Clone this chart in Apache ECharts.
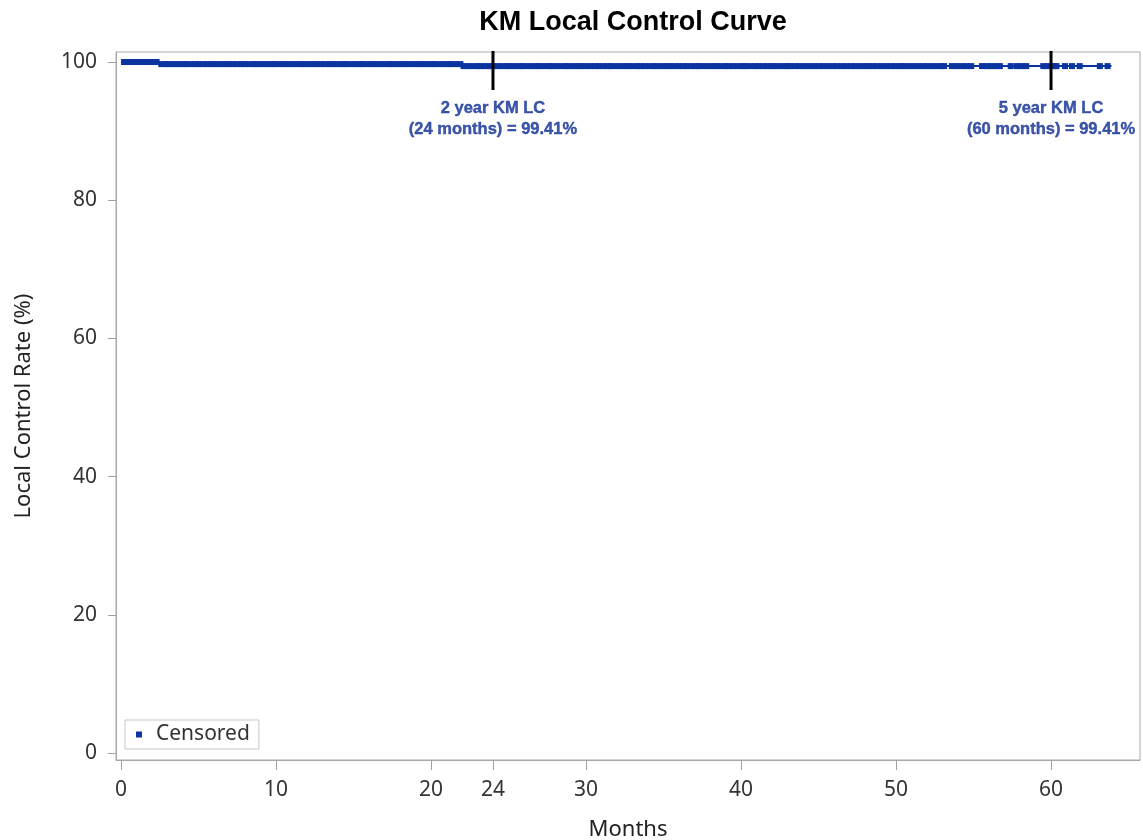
<!DOCTYPE html>
<html>
<head>
<meta charset="utf-8">
<script src="https://cdn.jsdelivr.net/npm/echarts@6/dist/echarts.min.js"></script>
<style>html,body{margin:0;padding:0;background:#fff}#c{width:1143px;height:840px}</style>
</head>
<body>
<div id="c"></div>
<script>
// KM step curve (event times and survival %)
var kmTimes = [0, 2.5, 22.0, 63.9];
var kmRates = [100, 99.70, 99.41, 99.41];
// censored observation times (months)
var censorTimes = [0.2,0.4,0.7,1.0,1.2,1.5,1.8,2.1,2.3,2.6,2.9,3.1,3.4,3.7,4.0,4.2,4.5,4.8,5.0,5.3,5.6,5.9,6.1,6.4,6.7,6.9,7.2,7.5,7.8,8.0,8.3,8.6,8.8,9.1,9.4,9.7,9.9,10.2,10.5,10.7,11.0,11.3,11.6,11.8,12.1,12.4,12.6,12.9,13.2,13.5,13.7,14.0,14.3,14.5,14.8,15.1,15.4,15.6,15.9,16.2,16.4,16.7,17.0,17.3,17.5,17.8,18.1,18.3,18.6,18.9,19.2,19.4,19.7,20.0,20.2,20.5,20.8,21.1,21.3,21.6,21.9,22.1,22.4,22.7,23.0,23.2,23.5,23.8,24.0,24.3,24.6,24.9,25.1,25.4,25.7,25.9,26.2,26.5,26.8,27.0,27.3,27.6,27.8,28.1,28.4,28.7,28.9,29.2,29.5,29.7,30.0,30.3,30.6,30.8,31.1,31.4,31.6,31.9,32.2,32.5,32.7,33.0,33.3,33.5,33.8,34.1,34.4,34.6,34.9,35.2,35.4,35.7,36.0,36.3,36.5,36.8,37.1,37.3,37.6,37.9,38.2,38.4,38.7,39.0,39.2,39.5,39.8,40.1,40.3,40.6,40.9,41.1,41.4,41.7,42.0,42.2,42.5,42.8,43.0,43.2,
  43.5,43.8,44.1,44.4,44.7,45.0,
  45.3,45.6,45.9,46.2,46.5,46.8,47.1,47.4,47.7,48.0,48.2,
  48.5,48.8,49.1,49.4,49.7,50.0,50.3,50.5,
  50.8,51.1,51.4,51.7,52.0,52.3,52.6,52.9,53.1,
  53.6,53.9,54.25,54.55,54.85,55.55,55.85,56.1,56.45,56.7,57.4,57.8,58.1,58.4,59.5,59.8,60.2,60.35,60.9,61.35,61.85,63.15,63.65];
// annotation milestones
var milestoneMonths = [24, 60];
var milestoneLabels = ['2 year KM LC\n(24 months) = 99.41%', '5 year KM LC\n(60 months) = 99.41%'];
var xTickValues = [0, 10, 20, 24, 30, 40, 50, 60];
var yTickValues = [0, 20, 40, 60, 80, 100];

function kmAt(t) {
  var v = kmRates[0];
  for (var i = 0; i < kmTimes.length; i++) { if (kmTimes[i] <= t) v = kmRates[i]; }
  return v;
}
var kmData = kmTimes.map(function (t, i) { return [t, kmRates[i]]; });
var censorData = censorTimes.map(function (t) { return [t, kmAt(t)]; });

var blue = '#0a34a0';
var textBlue = '#0c2c94';
var axisGray = '#a8a8a8';
var series = [
  { name: 'KM', type: 'line', step: 'end', data: kmData, showSymbol: false, clip: false,
    lineStyle: { color: blue, width: 2 }, itemStyle: { color: blue }, z: 3, silent: true },
  { name: 'Censored', type: 'scatter', data: censorData, symbol: 'rect', symbolSize: 6, clip: false,
    itemStyle: { color: blue, opacity: 1 }, z: 4, silent: true }
];
milestoneMonths.forEach(function (m, i) {
  series.push({ type: 'line', data: [[m, 95.95], [m, 101.6]], showSymbol: false, clip: false,
    lineStyle: { color: '#000', width: 3 }, z: 5, silent: true });
  series.push({ type: 'scatter', data: [[m, 91.8]], symbolSize: 0, clip: false, silent: true,
    label: { show: true, position: 'inside', formatter: milestoneLabels[i],
      fontFamily: 'Liberation Sans, Arial', fontWeight: 'bold', fontSize: 16.5, lineHeight: 21,
      color: textBlue, textBorderColor: textBlue, textBorderWidth: 0.4, align: 'center' } });
});

var chart = echarts.init(document.getElementById('c'));
chart.setOption({
  animation: false,
  backgroundColor: '#fff',
  title: { text: 'KM Local Control Curve', left: 628, textAlign: 'center', top: 4,
    textStyle: { fontFamily: 'Liberation Sans, Arial', fontWeight: 'bold', fontSize: 27, color: '#000' } },
  legend: { data: ['Censored'], left: 125, top: 720, orient: 'horizontal',
    borderColor: '#c8c8c8', borderWidth: 1, padding: [4, 9, 4, 11], itemWidth: 6, itemHeight: 6,
    textStyle: { fontFamily: 'Noto Sans', fontSize: 21, color: '#333', padding: [0, 0, 0, 9] } },
  grid: { left: 116, right: 3, top: 52, bottom: 80, show: true, borderColor: axisGray, borderWidth: 1,
    backgroundColor: 'transparent', containLabel: false, outerBoundsMode: 'none' },
  xAxis: { type: 'value', min: -0.32, max: 65.74,
    axisLine: { show: true, onZero: false, lineStyle: { color: axisGray, width: 1 } },
    axisTick: { show: true, length: 10, customValues: xTickValues, lineStyle: { color: '#a0a0a0' } },
    axisLabel: { customValues: xTickValues, fontFamily: 'Noto Sans', fontSize: 21, color: '#333', margin: 20 },
    splitLine: { show: false },
    name: 'Months', nameLocation: 'middle', nameGap: 59,
    nameTextStyle: { fontFamily: 'Noto Sans', fontSize: 22, color: '#222' } },
  yAxis: { type: 'value', min: -1.01, max: 101.45,
    axisLine: { show: true, onZero: false, lineStyle: { color: axisGray, width: 1 } },
    axisTick: { show: true, length: 8, customValues: yTickValues, lineStyle: { color: '#a0a0a0' } },
    axisLabel: { customValues: yTickValues, fontFamily: 'Noto Sans', fontSize: 21, color: '#333', margin: 19 },
    splitLine: { show: false },
    name: 'Local Control Rate (%)', nameLocation: 'middle', nameGap: 81, nameRotate: 90,
    nameTextStyle: { fontFamily: 'Noto Sans', fontSize: 22, color: '#222' } },
  series: series
});
</script>
</body>
</html>
